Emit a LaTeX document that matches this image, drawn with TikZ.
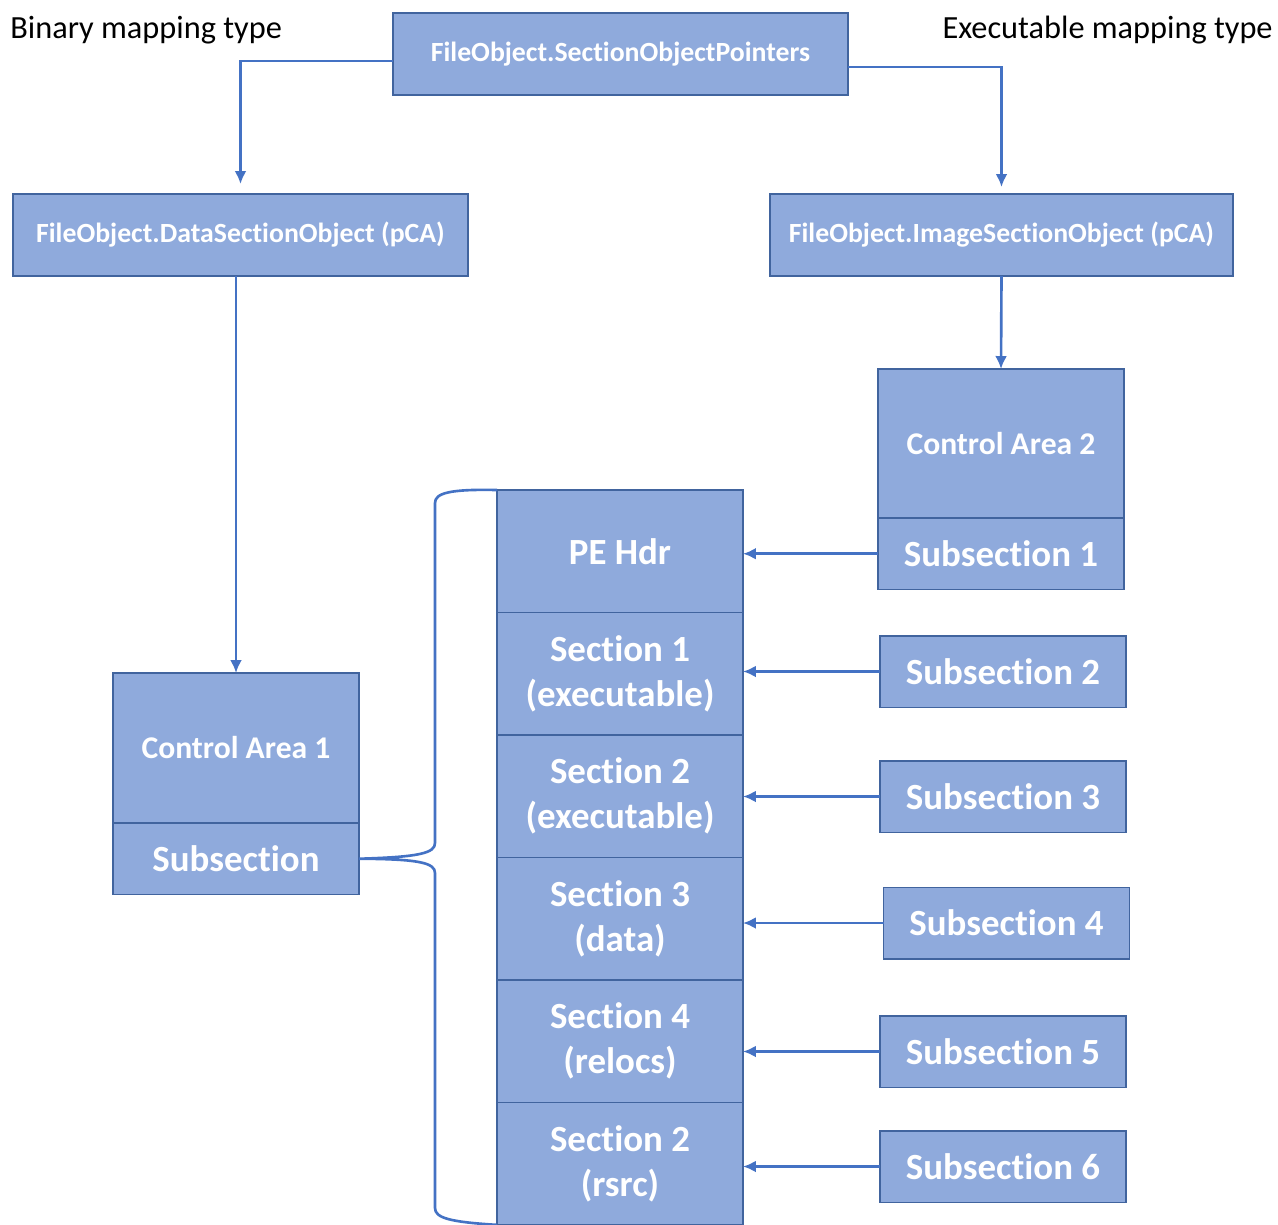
\documentclass[tikz,border=0pt]{standalone}
\usepackage{fontspec}
\setmainfont{Carlito}[Ligatures=NoCommon]
\usepackage{tikz}
\usetikzlibrary{arrows.meta,positioning,calc}
\definecolor{MapFill}{HTML}{8FAADC}
\definecolor{MapEdge}{HTML}{41649E}
\definecolor{MapLine}{HTML}{4472C4}

\begin{document}
\begin{tikzpicture}[x=0.02cm,y=-0.02cm,
  obj/.style={draw=MapEdge,line width=0.85pt,fill=MapFill,text=white,inner sep=0pt,outer sep=0pt,align=center,font=\fontsize{15.8}{18}\selectfont\bfseries},
  area/.style={obj,minimum width=4.92cm,font=\fontsize{18}{22}\selectfont\bfseries},
  sect/.style={obj,minimum width=4.92cm,minimum height=2.45cm,font=\fontsize{21}{25.5}\selectfont\bfseries},
  subsec/.style={obj,minimum width=4.92cm,minimum height=1.43cm,font=\fontsize{21}{25.5}\selectfont\bfseries},
  arrow/.style={-{Latex[length=2.6mm,width=2.4mm]},line width=1.5pt,draw=MapLine},
  brace/.style={line width=1.5pt,draw=MapLine},
  maptype/.style={font=\fontsize{18.4}{22}\selectfont,inner sep=0pt}]
  \useasboundingbox (0,0) rectangle (1278,1224);
  % mapping type captions
  \node[maptype,anchor=west] (binlbl) at (10,30) {Binary mapping type};
  \node[maptype,anchor=east] (exelbl) at (1273,30) {Executable mapping type};
  % file object pointers
  \node[obj,minimum width=9.1cm,minimum height=1.64cm] (ptrs) at (620.5,54) {FileObject.SectionObjectPointers};
  \node[obj,minimum width=9.1cm,minimum height=1.64cm] (dso) at (240.5,235) {FileObject.DataSectionObject (pCA)};
  \node[obj,minimum width=9.26cm,minimum height=1.64cm] (iso) at (1001.5,235) {FileObject.ImageSectionObject (pCA)};
  % control areas
  \node[area,minimum height=2.98cm] (ca2) at (1001,443.5) {Control Area 2};
  \node[subsec,below=0pt of ca2] (sub1) {Subsection 1};
  \node[area,minimum height=3cm] (ca1) at (236,748) {Control Area 1};
  \node[subsec,below=0pt of ca1] (sub) {Subsection};
  % image sections
  \node[sect] (pe) at (620,551.25) {PE Hdr};
  \node[sect,below=0pt of pe] (s1) {Section 1\\(executable)};
  \node[sect,below=0pt of s1] (s2) {Section 2\\(executable)};
  \node[sect,below=0pt of s2] (s3) {Section 3\\(data)};
  \node[sect,below=0pt of s3] (s4) {Section 4\\(relocs)};
  \node[sect,below=0pt of s4] (s5) {Section 2\\(rsrc)};
  % subsections
  \node[subsec] (sub2) at (1003,671.5) {Subsection 2};
  \node[subsec] (sub3) at (1003,796.5) {Subsection 3};
  \node[subsec] (sub4) at (1006.5,923) {Subsection 4};
  \node[subsec] (sub5) at (1003,1051.5) {Subsection 5};
  \node[subsec] (sub6) at (1003,1166.5) {Subsection 6};
  % connectors
  \draw[arrow,shorten >=0.2cm] ($(ptrs.west)+(0,7)$) -| (dso.north);
  \draw[arrow,shorten >=0.14cm] ($(ptrs.east)+(0,13)$) -| (iso.north);
  \draw[arrow] (dso.south -| ca1.north) -- (ca1.north);
  \draw[arrow] (iso.south) -- (ca2.north);
  \foreach \a/\b in {sub1/pe,sub2/s1,sub3/s2,sub4/s3,sub5/s4,sub6/s5}
    \draw[arrow] (\a.west) -- (\a.west -| \b.east);
  % brace over the image sections
  \draw[brace] (pe.north west) .. controls (450,489) and (435,493) .. (435,503) -- (435,843)
    .. controls (435,853) and (420,857) .. (sub.east)
    .. controls (420,859) and (435,863) .. (435,873) -- (435,1208)
    .. controls (435,1218) and (450,1222) .. (s5.south west);
\end{tikzpicture}
\end{document}
